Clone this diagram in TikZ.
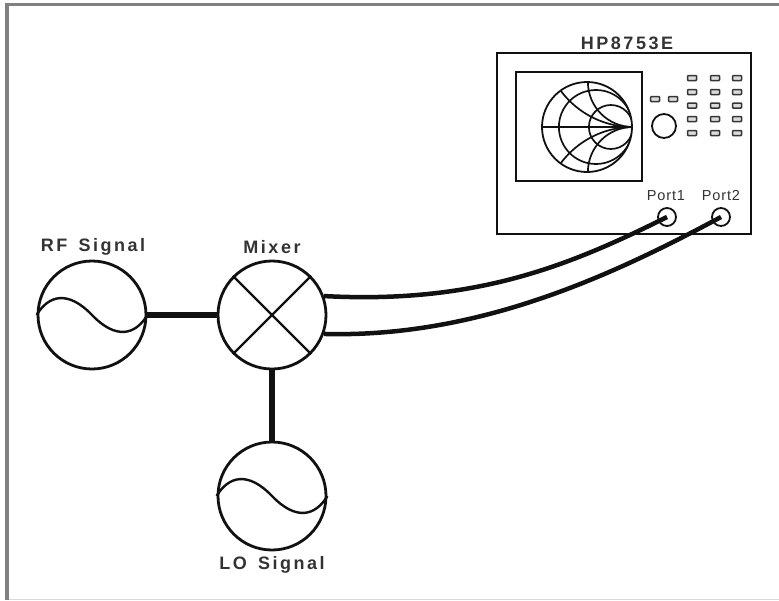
\documentclass[tikz,border=0pt]{standalone}
\usepackage{fontspec}
\setmainfont{Liberation Sans}
\newfontfamily\spaced[LetterSpace=14,WordSpace=1.5]{Liberation Sans}
\newfontfamily\spacedthin[LetterSpace=6]{Liberation Sans}
\definecolor{frame}{HTML}{808080}
\definecolor{ink}{HTML}{111111}
\definecolor{lbl}{HTML}{333333}
\usetikzlibrary{positioning}
\tikzset{
	source/.style={draw=ink, circle, line width=2.8pt, minimum size=108pt, inner sep=0pt},
	wave/.style={draw=ink, line width=2.4pt},
	feed/.style={draw=ink, line width=4.5pt},
	title/.style={inner sep=0pt, text=lbl, font=\spaced\bfseries\fontsize{18pt}{20pt}\selectfont},
	portlabel/.style={inner sep=0pt, text=lbl, font=\spacedthin\fontsize{14.5pt}{16pt}\selectfont},
	key/.style={draw=ink!85, fill=ink!15, line width=1.5pt, rounded corners=0.8pt, minimum width=9pt, minimum height=5pt, inner sep=0pt},
	port/.style={draw=ink, circle, line width=1.8pt, minimum size=18pt, inner sep=0pt},
	smithline/.style={draw=ink, line width=1.7pt},
}
\begin{document}
\begin{tikzpicture}[x=1pt,y=-1pt]
	\useasboundingbox (0,0) rectangle (779,600);
	\draw[frame, line width=4pt] (7,600) -- (7,4.5);
	\draw[frame, line width=3.2pt] (5,4.5) -- (779,4.5);
	\draw[frame!30, line width=1pt] (9,599) -- (779,599);
	%sources and mixer
	\node[source] (rf) at (92,315) {};
	\node[source] (mixer) at (272,315) {};
	\node[source] (lo) at (272,496) {};
	\node[title] (rflabel) at (93,247) {RF Signal};
	\node[title] (mixerlabel) at (272,247) {Mixer};
	\node[title] (lolabel) at (272,565) {LO Signal};
	\foreach \src in {rf, lo}
	\draw[wave] (\src.west) .. controls +(12,-20) and +(-24,-25) .. (\src.center)
	.. controls +(24,25) and +(-12,20) .. (\src.east);
	\draw[wave] (mixer.45) -- (mixer.225);
	\draw[wave] (mixer.135) -- (mixer.315);
	\draw[feed, line width=5.2pt] (rf) -- (mixer);
	\draw[feed, line width=5.2pt] (mixer) -- (lo);
	%analyzer
	\node[draw=ink, line width=2pt, minimum width=254pt, minimum height=181pt, inner sep=0pt] (hp) at (624,143.5) {};
	\node[title] (hplabel) at (627,43) {HP8753E};
	\node[draw=ink, line width=2pt, minimum width=126pt, minimum height=109pt, inner sep=0pt] (screen) at (579,126.5) {};
	\node[draw=ink, circle, line width=1.8pt, minimum size=90pt, inner sep=0pt] (smith) at (587,127) {};
	\begin{scope}
		\clip (smith.center) circle (45);
		\foreach \r in {37, 22}
		\draw[smithline] (smith.east) ++(-\r,0) circle (\r);
		\foreach \r in {45, 90} {
			\draw[smithline] (smith.east) ++(0,-\r) circle (\r);
			\draw[smithline] (smith.east) ++(0,\r) circle (\r);
		}
	\end{scope}
	\draw[smithline, line width=2.2pt] (smith.west) -- (smith.east);
	\node[draw=ink, circle, line width=1.8pt, minimum size=24pt, inner sep=0pt] (knob) at (664,126) {};
	\foreach \x in {655, 673}
	\node[key] (soft\x) at (\x,99) {};
	\foreach \x in {692, 715, 737}
	\foreach \y in {78, 92, 105.5, 119, 133}
	\node[key] (key\x) at (\x,\y) {};
	\node[port] (port1) at (667,217) {};
	\node[port] (port2) at (721,217) {};
	\node[portlabel] (port1label) at (666,196) {Port1};
	\node[portlabel] (port2label) at (721,196) {Port2};
	%cables
	\draw[feed] (mixer.20) .. controls +(150,8) and +(-100,50) .. (port1.center);
	\draw[feed] (mixer.-20) .. controls +(150,4) and +(-115,62) .. (port2.center);
\end{tikzpicture}
\end{document}
